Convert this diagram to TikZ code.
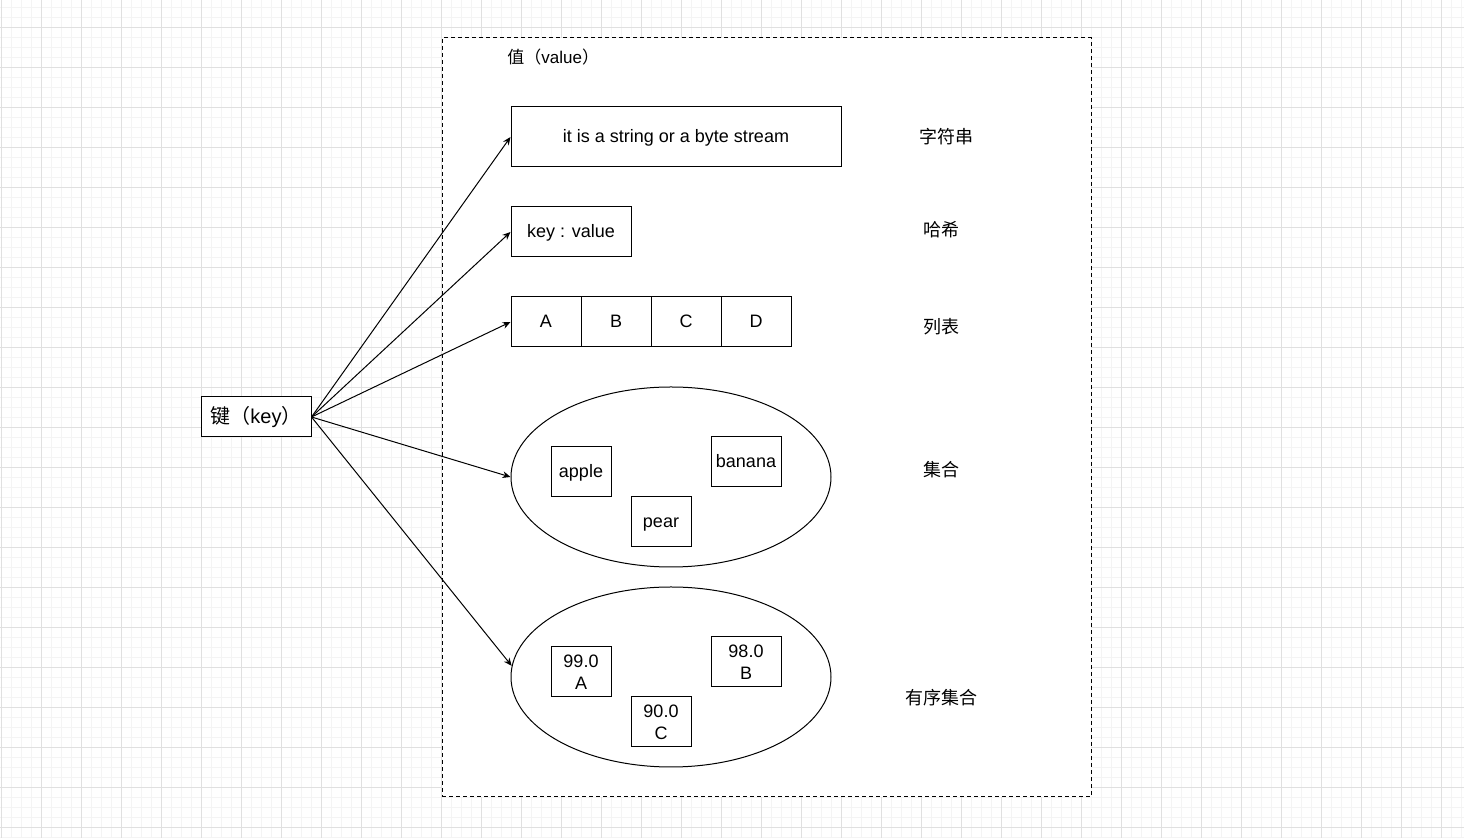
\documentclass[tikz,border=0pt]{standalone}
\usepackage{fontspec}
\setmainfont{Liberation Sans}
\newfontfamily\cjk{Noto Sans CJK SC}
\usetikzlibrary{arrows.meta,shapes.geometric}
\definecolor{gridminor}{HTML}{F4F4F4}
\definecolor{gridmajor}{HTML}{E0E0E0}
\tikzset{
  minorline/.style={draw=gridminor,line width=0.5pt},
  majorline/.style={draw=gridmajor,line width=0.6pt},
  container/.style={draw=black,fill=white,line width=0.5pt,dash pattern=on 2pt off 1.5pt,inner sep=0pt},
  box/.style={draw=black,fill=white,line width=0.5pt,inner sep=0pt,align=center,font=\fontsize{9}{11}\selectfont},
  oneline/.style={box,text height=7.2pt,text depth=1.6pt},
  oval/.style={ellipse,draw=black,fill=white,line width=0.5pt,inner sep=0pt,minimum width=160pt,minimum height=90pt},
  lbl/.style={inner sep=0pt,font=\fontsize{9}{11}\selectfont\cjk},
  arr/.style={draw=black,line width=0.5pt,-{Stealth[length=4pt,width=3.4pt]}}
}
\begin{document}
\begin{tikzpicture}[x=0.5pt,y=-0.5pt]
\useasboundingbox (0,0) rectangle (1464,838);
\fill[white] (0,0) rectangle (1464,838);
% grid
\foreach \i in {0,...,146} \draw[minorline] ({1.3+10*\i},0) -- ({1.3+10*\i},838);
\foreach \j in {0,...,83} \draw[minorline] (0,{7.3+10*\j}) -- (1464,{7.3+10*\j});
\foreach \i in {0,...,36} \draw[majorline] ({1.3+40*\i},0) -- ({1.3+40*\i},838);
\foreach \j in {0,...,20} \draw[majorline] (0,{27.3+40*\j}) -- (1464,{27.3+40*\j});
% container
\node[container,minimum width=324.5pt,minimum height=379.5pt] (val) at (766.5,417.5) {};
\node[anchor=west,inner sep=0pt,font=\fontsize{8.5}{10}\selectfont] (vlab) at (507,57) {{\cjk 值（}value{\cjk ）}};
% value boxes
\node[oneline,minimum width=165pt,minimum height=30pt] (str) at (676,137) {it is a string or a byte stream};
\node[oneline,minimum width=60pt,minimum height=25pt] (kv) at (571,232) {key : value};
\node[oneline,minimum width=35pt,minimum height=25pt] (la) at (546,322) {A};
\node[oneline,minimum width=35pt,minimum height=25pt] (lb) at (616,322) {B};
\node[oneline,minimum width=35pt,minimum height=25pt] (lc) at (686,322) {C};
\node[oneline,minimum width=35pt,minimum height=25pt] (ld) at (756,322) {D};
\node[oval] (ell1) at (671,477) {};
\node[oneline,minimum width=30pt,minimum height=25pt] (apple) at (581,472) {apple};
\node[oneline,minimum width=30pt,minimum height=25pt] (pear) at (661,522) {pear};
\node[oneline,minimum width=35pt,minimum height=25pt] (banana) at (746,462) {banana};
\node[oval] (ell2) at (671,677) {};
\node[box,minimum width=30pt,minimum height=25pt] (za) at (581,672) {99.0\\A};
\node[box,minimum width=30pt,minimum height=25pt] (zc) at (661,722) {90.0\\C};
\node[box,minimum width=35pt,minimum height=25pt] (zb) at (746,662) {98.0\\B};
% type labels
\node[lbl] (t1) at (946,137) {字符串};
\node[lbl] (t2) at (941,230) {哈希};
\node[lbl] (t3) at (941,327) {列表};
\node[lbl] (t4) at (941,470) {集合};
\node[lbl] (t5) at (941,698) {有序集合};
% key
\node[box,minimum width=55pt,minimum height=20pt,font=\fontsize{10}{12}\selectfont] (key) at (256,417) {{\cjk 键（}key{\cjk ）}};
% arrows
\draw[arr] (key.east) -- (str.west);
\draw[arr] (key.east) -- (kv.west);
\draw[arr] (key.east) -- (la.west);
\draw[arr] (key.east) -- (ell1.west);
\draw[arr] (key.east) -- (ell2.176);
\end{tikzpicture}
\end{document}
